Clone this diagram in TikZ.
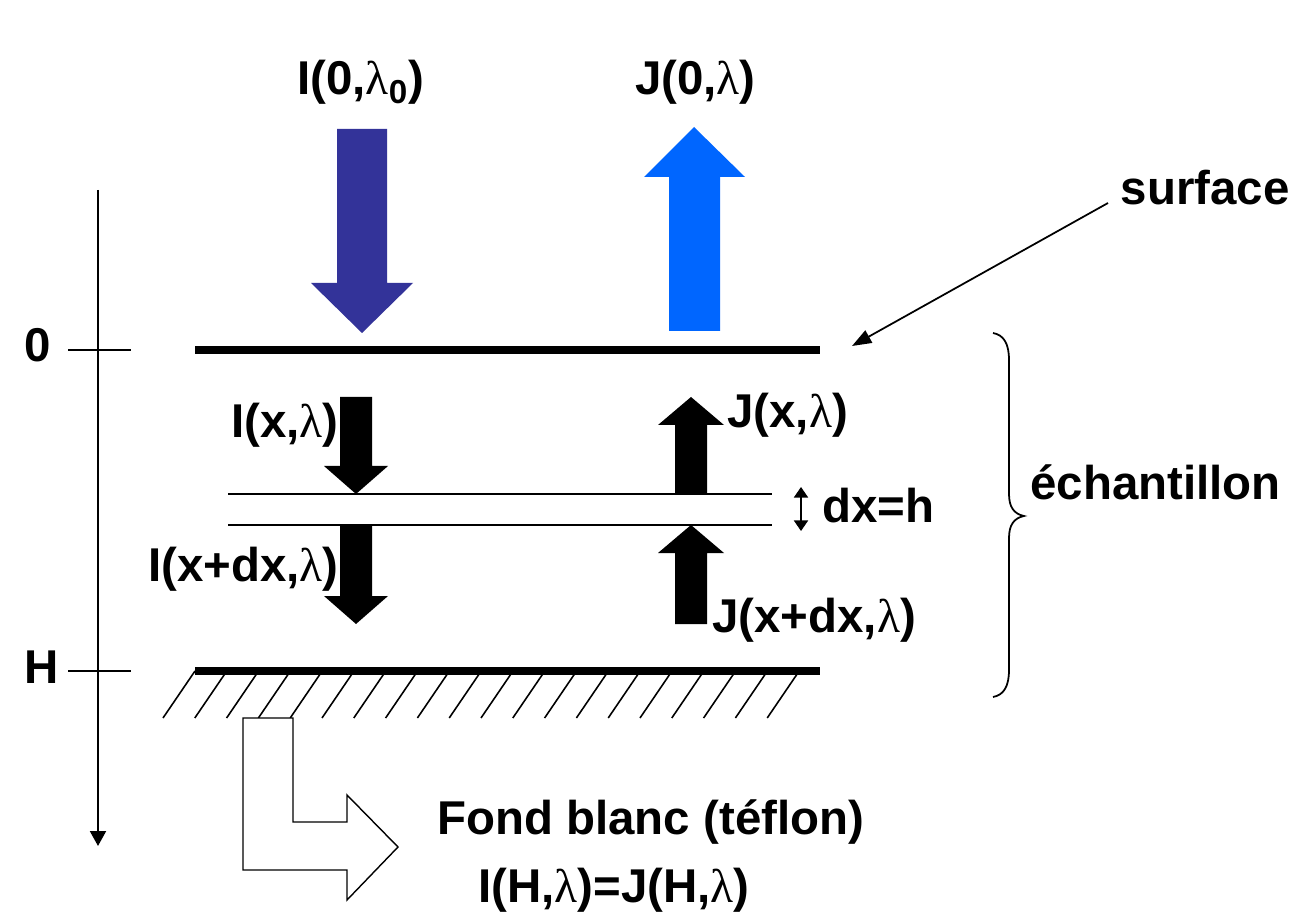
\documentclass[tikz,border=0pt]{standalone}
\usepackage{fontspec}
\setmainfont{Liberation Sans}
\newfontfamily\lamfont{Liberation Serif}
\newcommand\lam{{\lamfont\mdseries λ}}
\usetikzlibrary{arrows.meta}
\definecolor{darkblue}{HTML}{333399}
\definecolor{brightblue}{HTML}{0066FF}
\begin{document}
\begin{tikzpicture}[x=0.02cm,y=-0.02cm,
  txt/.style={font=\fontsize{27}{32}\selectfont\bfseries, inner sep=0pt},
  heavy/.style={line width=4.5pt},
  layer/.style={line width=1.1pt},
  thinln/.style={line width=1pt},
  axisln/.style={line width=1.4pt},
  hatchln/.style={line width=0.9pt},
  fatarrow/.style={fill=black, draw=none}]
\useasboundingbox (0,0) rectangle (1298,918);
\fill[white] (0,0) rectangle (1298,918);

% depth axis
\coordinate (axtop) at (98,190);
\coordinate (axbot) at (98,846);
\draw[axisln,-{Triangle[length=8.5pt,width=9pt]}] (axtop) -- (axbot);
\coordinate (t0a) at (68,350); \coordinate (t0b) at (131,350);
\coordinate (tHa) at (68,671); \coordinate (tHb) at (131,671);
\draw[thinln] (t0a) -- (t0b);
\draw[thinln] (tHa) -- (tHb);
\node[txt, anchor=base west] (lab0) at (24,362) {0};
\node[txt, anchor=base west] (labH) at (24,683) {H};

% surface and bottom
\coordinate (s1) at (195,350); \coordinate (s2) at (820,350);
\coordinate (b1) at (195,671); \coordinate (b2) at (820,671);
\draw[heavy] (s1) -- (s2);
\draw[heavy] (b1) -- (b2);
\foreach \i in {0,...,19} {
  \draw[hatchln] ({195+31.8*\i},671) -- ({195+31.8*\i-32},718);
}

% layer lines
\coordinate (l1a) at (228,494); \coordinate (l1b) at (772,494);
\coordinate (l2a) at (228,525); \coordinate (l2b) at (772,525);
\draw[layer] (l1a) -- (l1b);
\draw[layer] (l2a) -- (l2b);

% big incoming / outgoing arrows
\fill[darkblue] (337,129) -- (387,129) -- (387,283) -- (413,283) -- (362,333) -- (311,283) -- (337,283) -- cycle;
\fill[brightblue] (669,331) -- (720,331) -- (720,177) -- (745,177) -- (694,127) -- (644,177) -- (669,177) -- cycle;
\node[txt, anchor=base west] (I0) at (297,95) {I(0,\lam\textsubscript{0})};
\node[txt, anchor=base east] (J0) at (756,95) {J(0,\lam)};

% inner arrows
\fill[fatarrow] (340,397) -- (372,397) -- (372,466) -- (388,466) -- (356,494) -- (324,466) -- (340,466) -- cycle;
\fill[fatarrow] (340,525) -- (372,525) -- (372,596) -- (388,596) -- (356,624) -- (324,596) -- (340,596) -- cycle;
\fill[fatarrow] (675,494) -- (707,494) -- (707,425) -- (724,425) -- (691,397) -- (658,425) -- (675,425) -- cycle;
\fill[fatarrow] (675,624) -- (707,624) -- (707,553) -- (724,553) -- (691,525) -- (658,553) -- (675,553) -- cycle;
\node[txt, anchor=base east] (Ix) at (339,438) {I(x,\lam)};
\node[txt, anchor=base west] (Jx) at (727,428) {J(x,\lam)};
\node[txt, anchor=base east] (Ixdx) at (339,582) {I(x+dx,\lam)};
\node[txt, anchor=base west] (Jxdx) at (712,632) {J(x+dx,\lam)};

% dx = h
\coordinate (dxa) at (801,487); \coordinate (dxb) at (801,531);
\draw[line width=0.9pt,{Triangle[length=6pt,width=8pt]}-{Triangle[length=6pt,width=8pt]}] (dxa) -- (dxb);
\node[txt, anchor=base west] (dxh) at (822,522) {dx=h};

% surface label
\node[txt, anchor=base east] (surf) at (1290,205) {surface};
\coordinate (sstart) at (1108,203);
\coordinate (send) at (852,346);
\draw[thinln,-{Triangle[length=11pt,width=8pt]}] (sstart) -- (send);

% brace
\draw[thinln] (993,333) .. controls (1004,335) and (1009,344) .. (1009,360) -- (1009,494)
  .. controls (1009,507) and (1014,514) .. (1024,516)
  .. controls (1014,518) and (1009,525) .. (1009,538) -- (1009,670)
  .. controls (1009,686) and (1004,695) .. (993,697);
\node[txt, anchor=base west] (ech) at (1030,500) {échantillon};

% bent outline arrow
\draw[line width=0.8pt, fill=white] (243,718) -- (293,718) -- (293,822) -- (347,822) -- (347,795) -- (398,847) -- (347,900) -- (347,870) -- (243,870) -- cycle;
\node[txt, anchor=base west] (fond) at (437,834) {Fond blanc (téflon)};
\node[txt, anchor=base west] (IH) at (478,902) {I(H,\lam)=J(H,\lam)};
\end{tikzpicture}
\end{document}
